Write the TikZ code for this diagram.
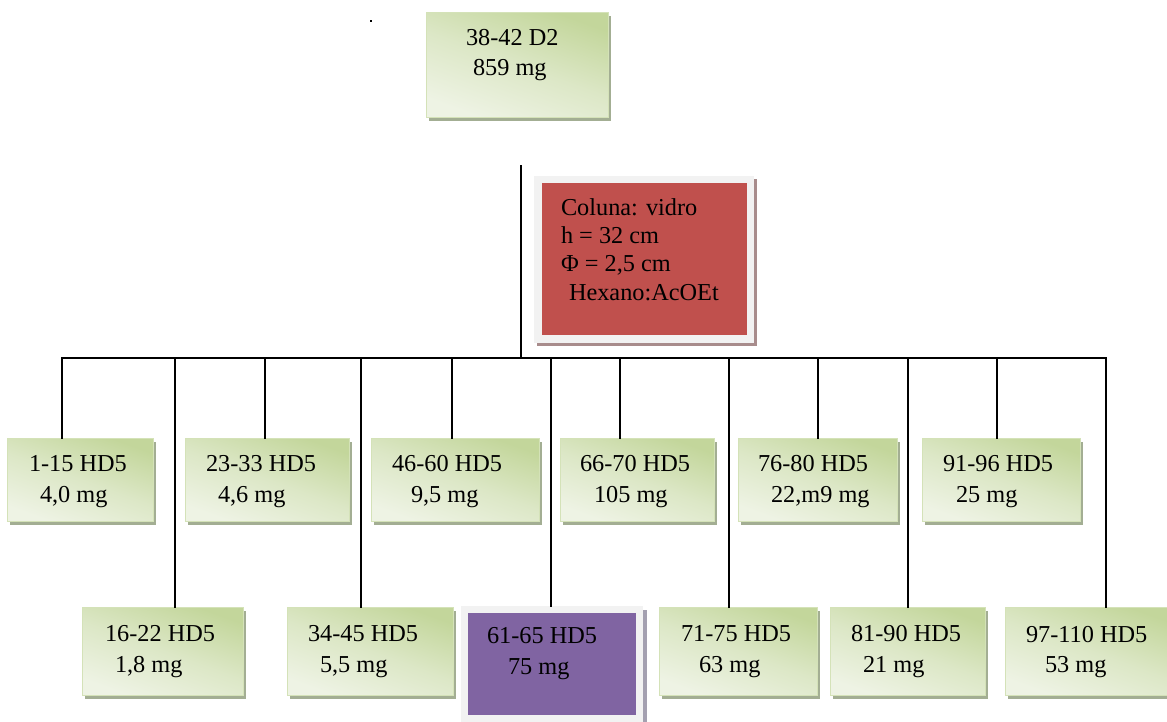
\documentclass[tikz,border=0pt]{standalone}
\usepackage{fontspec}
\setmainfont{Liberation Serif}
\usetikzlibrary{shadows}
\definecolor{gtop}{HTML}{C3D69B}
\definecolor{gmid}{HTML}{DCE7C6}
\definecolor{glight}{HTML}{EEF3E4}
\definecolor{gedge}{HTML}{D4E2B8}
\definecolor{gshadow}{HTML}{A3AE93}
\definecolor{frame}{HTML}{F2F2F2}
\definecolor{cred}{HTML}{C0504D}
\definecolor{rshadow}{HTML}{A88C8C}
\definecolor{cpurple}{HTML}{8064A2}
\definecolor{pshadow}{HTML}{A4A0B0}
\begin{document}
\begin{tikzpicture}[x=1pt,y=-1pt,
  gbox/.style={draw=gedge, line width=0.8pt, shading=axis, top color=gtop, bottom color=glight, middle color=gmid, shading angle=-20,
    drop shadow={shadow xshift=3pt, shadow yshift=-4pt, fill=gshadow, opacity=1},
    anchor=north west, inner sep=0pt, outer sep=0pt},
  framebox/.style={fill=frame, anchor=north west, inner sep=0pt, outer sep=0pt},
  inbox/.style={anchor=north west, inner sep=0pt, outer sep=0pt},
  txt/.style={anchor=base west, inner sep=0pt, outer sep=0pt, font=\fontsize{24.3}{29}\selectfont},
  conn/.style={line width=1.4pt, black, line cap=rect}]
\useasboundingbox (0,0) rectangle (1167,721);

% stray dot
\fill (369.5,19.5) rectangle (372,22);

% top box
\node[gbox, minimum width=182pt, minimum height=105pt] (top) at (426,12) {};
\node[txt] (ttopa) at (466,45) {38-42 D2};
\node[txt] (ttopb) at (473,75) {859 mg};

% column box
\node[framebox, minimum width=220pt, minimum height=167pt,
  drop shadow={shadow xshift=3pt, shadow yshift=-3pt, fill=rshadow, opacity=1}] (col) at (534,176) {};
\node[inbox, fill=cred, minimum width=205pt, minimum height=152pt] (colin) at (542,183) {};
\node[txt] (tc1) at (561,215) {Coluna: vidro};
\node[txt] (tc2) at (561,243) {h = 32 cm};
\node[txt] (tc3) at (561,271) {Φ = 2,5 cm};
\node[txt] (tc4) at (569,300) {Hexano:AcOEt};

% upper row
\node[gbox, minimum width=146pt, minimum height=83pt] (b1) at (7,438) {};
\node[txt] (t1a) at (29,471) {1-15 HD5};
\node[txt] (t1b) at (40,502) {4,0 mg};

\node[gbox, minimum width=164pt, minimum height=83pt] (b3) at (185,438) {};
\node[txt] (t3a) at (206,471) {23-33 HD5};
\node[txt] (t3b) at (218,502) {4,6 mg};

\node[gbox, minimum width=168pt, minimum height=83pt] (b5) at (371,438) {};
\node[txt] (t5a) at (392,471) {46-60 HD5};
\node[txt] (t5b) at (411,502) {9,5 mg};

\node[gbox, minimum width=154pt, minimum height=83pt] (b7) at (560,438) {};
\node[txt] (t7a) at (580,471) {66-70 HD5};
\node[txt] (t7b) at (594,502) {105 mg};

\node[gbox, minimum width=159pt, minimum height=83pt] (b9) at (738,438) {};
\node[txt] (t9a) at (758,471) {76-80 HD5};
\node[txt] (t9b) at (771,502) {22,m9 mg};

\node[gbox, minimum width=158pt, minimum height=83pt] (b11) at (922,438) {};
\node[txt] (t11a) at (943,471) {91-96 HD5};
\node[txt] (t11b) at (956,502) {25 mg};

% lower row
\node[gbox, minimum width=161pt, minimum height=88pt] (b2) at (82,607) {};
\node[txt] (t2a) at (105,641) {16-22 HD5};
\node[txt] (t2b) at (115,672) {1,8 mg};

\node[gbox, minimum width=166pt, minimum height=88pt] (b4) at (287,607) {};
\node[txt] (t4a) at (308,641) {34-45 HD5};
\node[txt] (t4b) at (320,672) {5,5 mg};

\node[framebox, minimum width=182pt, minimum height=118pt,
  drop shadow={shadow xshift=4pt, shadow yshift=-4pt, fill=pshadow, opacity=1}] (b6) at (461,606) {};
\node[inbox, fill=cpurple, minimum width=168pt, minimum height=102pt] (b6in) at (468,613) {};
\node[txt] (t6a) at (487,643) {61-65 HD5};
\node[txt] (t6b) at (508,674) {75 mg};

\node[gbox, minimum width=158pt, minimum height=88pt] (b8) at (659,607) {};
\node[txt] (t8a) at (681,641) {71-75 HD5};
\node[txt] (t8b) at (699,672) {63 mg};

\node[gbox, minimum width=155pt, minimum height=88pt] (b10) at (830,607) {};
\node[txt] (t10a) at (851,641) {81-90 HD5};
\node[txt] (t10b) at (863,672) {21 mg};

\node[gbox, minimum width=170pt, minimum height=88pt] (b12) at (1005,607) {};
\node[txt] (t12a) at (1026,642) {97-110 HD5};
\node[txt] (t12b) at (1045,672) {53 mg};

% connectors
\coordinate (src) at (521,166);
\coordinate (d1) at (62,358);
\coordinate (d2) at (175,358);
\coordinate (d3) at (265,358);
\coordinate (d4) at (361,358);
\coordinate (d5) at (452,358);
\coordinate (d6) at (551,358);
\coordinate (d7) at (620,358);
\coordinate (d8) at (729,358);
\coordinate (d9) at (818,358);
\coordinate (d10) at (908,358);
\coordinate (d11) at (997,358);
\coordinate (d12) at (1106,358);

\draw[conn] (src) -- (src |- d1);
\draw[conn] (d1) -- (d12);
\draw[conn] (d1) -- (d1 |- b1.north);
\draw[conn] (d2) -- (d2 |- b2.north);
\draw[conn] (d3) -- (d3 |- b3.north);
\draw[conn] (d4) -- (d4 |- b4.north);
\draw[conn] (d5) -- (d5 |- b5.north);
\draw[conn] (d6) -- (d6 |- b6.north);
\draw[conn] (d7) -- (d7 |- b7.north);
\draw[conn] (d8) -- (d8 |- b8.north);
\draw[conn] (d9) -- (d9 |- b9.north);
\draw[conn] (d10) -- (d10 |- b10.north);
\draw[conn] (d11) -- (d11 |- b11.north);
\draw[conn] (d12) -- (d12 |- b12.north);
\end{tikzpicture}
\end{document}
